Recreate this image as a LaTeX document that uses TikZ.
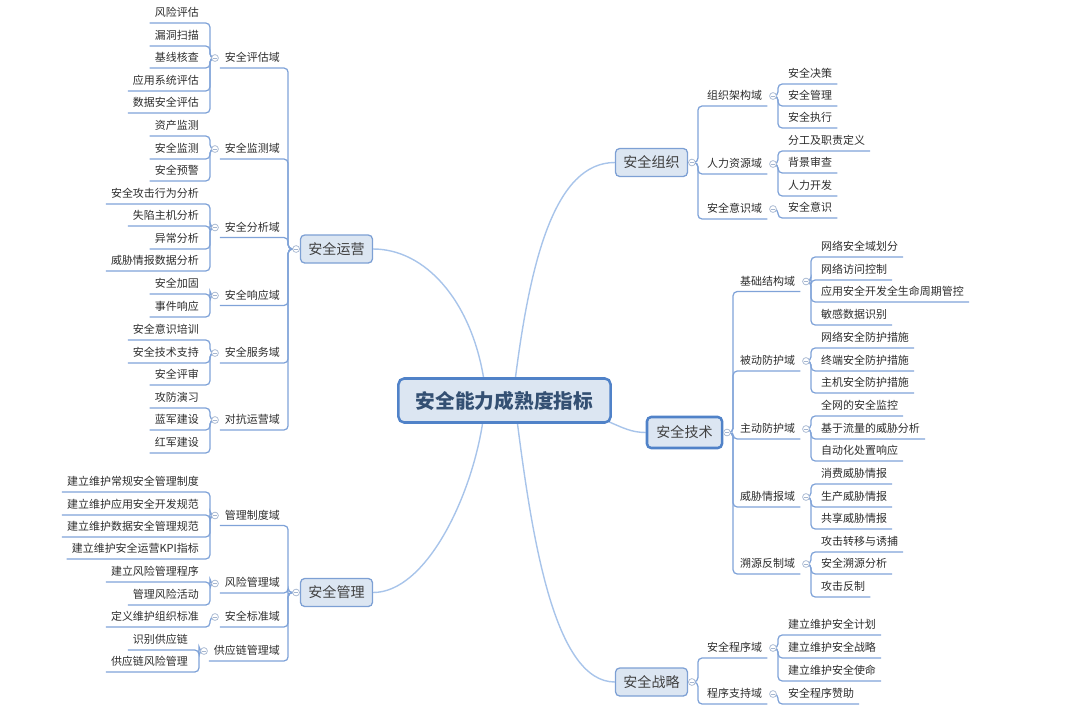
\documentclass[tikz,border=0pt]{standalone}
\usepackage{fontspec}
\setmainfont{Noto Sans CJK SC}
\usetikzlibrary{positioning,calc,backgrounds}
\definecolor{boxbg}{RGB}{220,230,242}
\definecolor{boxln}{RGB}{125,160,212}
\definecolor{rootln}{RGB}{80,130,200}
\definecolor{roottx}{RGB}{52,80,115}
\definecolor{topln}{RGB}{168,196,234}
\definecolor{subln}{RGB}{128,163,216}
\definecolor{dotln}{RGB}{165,182,208}
\definecolor{leaftx}{RGB}{45,45,45}
\tikzset{
  topic/.style={draw=boxln,fill=boxbg,rounded corners=3pt,line width=0.9pt,minimum width=1.8cm,minimum height=0.7cm,inner sep=0pt,font=\fontsize{10pt}{12pt}\selectfont,text=black!75},
  lf/.style={anchor=south west,inner xsep=3.5pt,inner ysep=4.1pt,text height=6.5pt,text depth=0pt,font=\fontsize{7.8pt}{9pt}\selectfont,text=leaftx},
  lfl/.style={lf,anchor=south east},
  dot/.style={circle,draw=dotln,fill=white,line width=0.5pt,minimum size=0.17cm,inner sep=0pt,
    path picture={\draw[dotln,line width=0.4pt] ([xshift=1pt]path picture bounding box.west) -- ([xshift=-1pt]path picture bounding box.east);}},
  ln/.style={draw=subln,line width=0.9pt,rounded corners=3pt},
  cv/.style={draw=topln,line width=1pt},
}
\begin{document}
\begin{tikzpicture}[x=0.025cm,y=-0.025cm]
  \useasboundingbox (0,0) rectangle (1080,718);
  % centre and main topics
  \node[topic,draw=rootln,line width=1.8pt,rounded corners=4pt,minimum width=5.3cm,minimum height=1.1cm,
    font=\fontsize{14pt}{16pt}\selectfont\bfseries,text=roottx] (root) at (504.5,400.5) {安全能力成熟度指标};
  \node[topic] (ops) at (336.5,249) {安全运营};
  \node[topic] (mgt) at (336.5,592.5) {安全管理};
  \node[topic] (org) at (651.5,162.5) {安全组织};
  \node[topic,draw=rootln,line width=1.8pt,minimum width=1.875cm,minimum height=0.775cm] (tec) at (684.5,432.5) {安全技术};
  \node[topic] (stg) at (651.5,682) {安全战略};
  \node[dot,left=0pt of ops] (ops-c) {};
  \node[dot,left=0pt of mgt] (mgt-c) {};
  \node[dot,right=0pt of org] (org-c) {};
  \node[dot,right=0pt of tec] (tec-c) {};
  \node[dot,right=0pt of stg] (stg-c) {};

  % 安全运营
  \node[lfl] (op1) at (285,68) {安全评估域};
  \node[lfl] (op2) at (285,159) {安全监测域};
  \node[lfl] (op3) at (285,237.5) {安全分析域};
  \node[lfl] (op4) at (285,305.5) {安全响应域};
  \node[lfl] (op5) at (285,363) {安全服务域};
  \node[lfl] (op6) at (285,430) {对抗运营域};
  \node[dot] (op1-c) at (215,58) {};
  \node[dot] (op2-c) at (215,149) {};
  \node[dot] (op3-c) at (215,227.5) {};
  \node[dot] (op4-c) at (215,295.5) {};
  \node[dot] (op5-c) at (215,353) {};
  \node[dot] (op6-c) at (215,420) {};
  \node[lfl] (op1-1) at (204,23) {风险评估};
  \node[lfl] (op1-2) at (204,46) {漏洞扫描};
  \node[lfl] (op1-3) at (204,68) {基线核查};
  \node[lfl] (op1-4) at (204,91) {应用系统评估};
  \node[lfl] (op1-5) at (204,113) {数据安全评估};
  \node[lfl] (op2-1) at (204,136) {资产监测};
  \node[lfl] (op2-2) at (204,159) {安全监测};
  \node[lfl] (op2-3) at (204,181) {安全预警};
  \node[lfl] (op3-1) at (204,204) {安全攻击行为分析};
  \node[lfl] (op3-2) at (204,226) {失陷主机分析};
  \node[lfl] (op3-3) at (204,249) {异常分析};
  \node[lfl] (op3-4) at (204,271) {威胁情报数据分析};
  \node[lfl] (op4-1) at (204,294) {安全加固};
  \node[lfl] (op4-2) at (204,317) {事件响应};
  \node[lfl] (op5-1) at (204,340) {安全意识培训};
  \node[lfl] (op5-2) at (204,363) {安全技术支持};
  \node[lfl] (op5-3) at (204,385) {安全评审};
  \node[lfl] (op6-1) at (204,408) {攻防演习};
  \node[lfl] (op6-2) at (204,430) {蓝军建设};
  \node[lfl] (op6-3) at (204,453) {红军建设};

  % 安全管理
  \node[lfl] (mg1) at (285,525.5) {管理制度域};
  \node[lfl] (mg2) at (285,593) {风险管理域};
  \node[lfl] (mg3) at (285,627) {安全标准域};
  \node[lfl] (mg4) at (285,661) {供应链管理域};
  \node[dot] (mg1-c) at (215,515.5) {};
  \node[dot] (mg2-c) at (215,583.5) {};
  \node[dot] (mg3-c) at (215,617) {};
  \node[dot] (mg4-c) at (204,651) {};
  \node[lfl] (mg1-1) at (204,492) {建立维护常规安全管理制度};
  \node[lfl] (mg1-2) at (204,515) {建立维护应用安全开发规范};
  \node[lfl] (mg1-3) at (204,537) {建立维护数据安全管理规范};
  \node[lfl] (mg1-4) at (204,559) {建立维护安全运营KPI指标};
  \node[lfl] (mg2-1) at (204,582) {建立风险管理程序};
  \node[lfl] (mg2-2) at (204,605) {管理风险活动};
  \node[lfl] (mg3-1) at (204,627) {定义维护组织标准};
  \node[lfl] (mg4-1) at (193,650) {识别供应链};
  \node[lfl] (mg4-2) at (193,672) {供应链风险管理};

  % 安全组织
  \node[lf] (or1) at (702,106) {组织架构域};
  \node[lf] (or2) at (702,174) {人力资源域};
  \node[lf] (or3) at (702,219) {安全意识域};
  \node[dot] (or1-c) at (773,96) {};
  \node[dot] (or2-c) at (773,164) {};
  \node[dot] (or3-c) at (773,209) {};
  \node[lf] (or1-1) at (783,84) {安全决策};
  \node[lf] (or1-2) at (783,106) {安全管理};
  \node[lf] (or1-3) at (783,128) {安全执行};
  \node[lf] (or2-1) at (783,151) {分工及职责定义};
  \node[lf] (or2-2) at (783,173) {背景审查};
  \node[lf] (or2-3) at (783,196) {人力开发};
  \node[lf] (or3-1) at (783,218) {安全意识};

  % 安全技术
  \node[lf] (te1) at (735,291.5) {基础结构域};
  \node[lf] (te2) at (735,371) {被动防护域};
  \node[lf] (te3) at (735,439) {主动防护域};
  \node[lf] (te4) at (735,507) {威胁情报域};
  \node[lf] (te5) at (735,574) {溯源反制域};
  \node[dot] (te1-c) at (806,281.5) {};
  \node[dot] (te2-c) at (806,361) {};
  \node[dot] (te3-c) at (806,429) {};
  \node[dot] (te4-c) at (806,497) {};
  \node[dot] (te5-c) at (806,564) {};
  \node[lf] (te1-1) at (816,257) {网络安全域划分};
  \node[lf] (te1-2) at (816,280) {网络访问控制};
  \node[lf] (te1-3) at (816,302) {应用安全开发全生命周期管控};
  \node[lf] (te1-4) at (816,325) {敏感数据识别};
  \node[lf] (te2-1) at (816,348) {网络安全防护措施};
  \node[lf] (te2-2) at (816,371) {终端安全防护措施};
  \node[lf] (te2-3) at (816,393) {主机安全防护措施};
  \node[lf] (te3-1) at (816,416) {全网的安全监控};
  \node[lf] (te3-2) at (816,439) {基于流量的威胁分析};
  \node[lf] (te3-3) at (816,461) {自动化处置响应};
  \node[lf] (te4-1) at (816,484) {消费威胁情报};
  \node[lf] (te4-2) at (816,507) {生产威胁情报};
  \node[lf] (te4-3) at (816,529) {共享威胁情报};
  \node[lf] (te5-1) at (816,552) {攻击转移与诱捕};
  \node[lf] (te5-2) at (816,574) {安全溯源分析};
  \node[lf] (te5-3) at (816,597) {攻击反制};

  % 安全战略
  \node[lf] (st1) at (702,658) {安全程序域};
  \node[lf] (st2) at (702,704) {程序支持域};
  \node[dot] (st1-c) at (773,648) {};
  \node[dot] (st2-c) at (773,694) {};
  \node[lf] (st1-1) at (783,635) {建立维护安全计划};
  \node[lf] (st1-2) at (783,658) {建立维护安全战略};
  \node[lf] (st1-3) at (783,681) {建立维护安全使命};
  \node[lf] (st2-1) at (783,704) {安全程序赞助};

  \begin{scope}[on background layer]
    \draw[cv] ($(root.north)+(-21,0)$) .. controls +(-13,-77) and +(52,0) .. (ops.east);
    \draw[cv] ($(root.south)+(-22,0)$) .. controls +(-12,76) and +(52,0) .. (mgt.east);
    \draw[cv] ($(root.north)+(11,0)$) .. controls +(15,-117) and +(-60,0) .. (org.west);
    \draw[cv] ($(root.south)+(13,0)$) .. controls +(15,117) and +(-60,0) .. (stg.west);
    \draw[cv] ($(root.south east)+(-3,-2)$) .. controls +(14,6) and +(-14,0) .. (tec.west);
    \foreach \i in {1,...,6} \draw[ln] (ops-c.center) -- ++(-8,0) |- (op\i.south west);
    \foreach \i in {1,...,4} \draw[ln] (mgt-c.center) -- ++(-8,0) |- (mg\i.south west);
    \foreach \i in {1,2,3} \draw[ln] (org-c.center) -- ++(6,0) |- (or\i.south east);
    \foreach \i in {1,...,5} \draw[ln] (tec-c.center) -- ++(6,0) |- (te\i.south east);
    \foreach \i in {1,2} \draw[ln] (stg-c.center) -- ++(6,0) |- (st\i.south east);
    \foreach \g/\n in {op1/5,op2/3,op3/4,op4/2,op5/3,op6/3,mg1/4,mg2/2,mg3/1,mg4/2}
      \foreach \i in {1,...,\n} \draw[ln] (\g-c.center) -- ++(-5,0) |- (\g-\i.south west);
    \foreach \g/\n in {or1/3,or2/3,or3/1,te1/4,te2/3,te3/3,te4/3,te5/3,st1/3,st2/1}
      \foreach \i in {1,...,\n} \draw[ln] (\g-c.center) -- ++(5,0) |- (\g-\i.south east);
  \end{scope}
\end{tikzpicture}
\end{document}
